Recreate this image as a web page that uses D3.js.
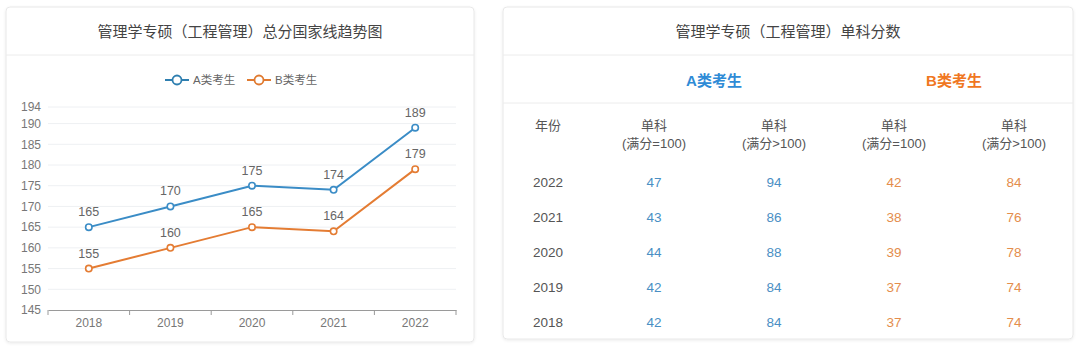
<!DOCTYPE html>
<html>
<head>
<meta charset="utf-8">
<style>
body { margin: 0; background: #fff; }
svg text { font-family: "Liberation Sans", "Noto Sans CJK SC", sans-serif; }
</style>
</head>
<body>
<svg id="chart" width="1080" height="352"></svg>
<script src="https://d3js.org/d3.v7.min.js"></script>
<script>

// data
const years = ["2018", "2019", "2020", "2021", "2022"];
const totalA = [165, 170, 175, 174, 189];
const totalB = [155, 160, 165, 164, 179];
const yTicks = [145, 150, 155, 160, 165, 170, 175, 180, 185, 190, 194];

const tableYears = ["2022", "2021", "2020", "2019", "2018"];
const aSingle100 = [47, 43, 44, 42, 42];
const aSingleOver = [94, 86, 88, 84, 84];
const bSingle100 = [42, 38, 39, 37, 37];
const bSingleOver = [84, 76, 78, 74, 74];

const leftTitle = "管理学专硕（工程管理）总分国家线趋势图";
const rightTitle = "管理学专硕（工程管理）单科分数";
const seriesNames = ["A类考生", "B类考生"];
const colHeads = ["(满分=100)", "(满分>100)", "(满分=100)", "(满分>100)"];

const blue = "#3a8cc6", orange = "#e47c33";

let svg = d3.select("#chart");

// soft shadow for the cards
let defs = svg.append("defs");
let f = defs.append("filter").attr("id", "shadow").attr("x", "-5%").attr("y", "-5%").attr("width", "110%").attr("height", "110%");
f.append("feDropShadow").attr("dx", 0).attr("dy", 1).attr("stdDeviation", 1.5).attr("flood-color", "#000").attr("flood-opacity", 0.08);

function card(x0, y0, x1, y1, title) {
    let g = svg.append("g");
    g.append("rect")
        .attr("x", x0).attr("y", y0)
        .attr("width", x1 - x0).attr("height", y1 - y0)
        .attr("rx", 4)
        .attr("fill", "#fff")
        .attr("stroke", "#e8e8e8")
        .attr("filter", "url(#shadow)");
    g.append("line")
        .attr("x1", x0).attr("x2", x1)
        .attr("y1", 55).attr("y2", 55)
        .attr("stroke", "#ececec");
    g.append("text")
        .attr("x", (x0 + x1) / 2).attr("y", 31)
        .attr("text-anchor", "middle").attr("dominant-baseline", "central")
        .attr("font-size", 15).attr("fill", "#444")
        .text(title);
    return g;
}

// ---------- left: line chart ----------
card(6, 7, 474, 342, leftTitle);

let x = d3.scaleBand().domain(years).range([48, 456]);
let y = d3.scaleLinear().domain([145, 194]).range([310, 107]);

let plot = svg.append("g");

// grid
plot.selectAll(".grid")
    .data(yTicks.slice(1))
    .join("line")
    .attr("x1", 48).attr("x2", 456)
    .attr("y1", d => y(d)).attr("y2", d => y(d))
    .attr("stroke", "#eef0f3");

// y axis (labels only)
let yAxis = plot.append("g")
    .attr("transform", "translate(48,0)")
    .call(d3.axisLeft(y).tickValues(yTicks).tickSize(0).tickPadding(7));
yAxis.select(".domain").remove();
yAxis.selectAll("text").attr("font-size", 12).attr("fill", "#777").attr("font-family", null);

// x axis
let xAxis = plot.append("g")
    .attr("transform", "translate(0,310)")
    .call(d3.axisBottom(x).tickSize(0).tickPadding(8));
xAxis.select(".domain").attr("stroke", "#9a9a9a");
xAxis.selectAll("text").attr("font-size", 12).attr("fill", "#777").attr("font-family", null);
// boundary ticks between bands
xAxis.selectAll(".bt")
    .data(years.map(d => x(d)).concat([x.range()[1]]))
    .join("line")
    .attr("x1", d => d).attr("x2", d => d)
    .attr("y1", 0).attr("y2", 5)
    .attr("stroke", "#9a9a9a");

let cx = d => x(d) + x.bandwidth() / 2;

[[totalA, blue], [totalB, orange]].forEach(([vals, col]) => {
    let pts = years.map((yr, i) => ({ yr: yr, v: vals[i] }));
    plot.append("path")
        .datum(pts)
        .attr("fill", "none")
        .attr("stroke", col)
        .attr("stroke-width", 2)
        .attr("d", d3.line().x(d => cx(d.yr)).y(d => y(d.v)));
    plot.selectAll(null)
        .data(pts)
        .join("circle")
        .attr("cx", d => cx(d.yr)).attr("cy", d => y(d.v))
        .attr("r", 3.2)
        .attr("fill", "#fff")
        .attr("stroke", col)
        .attr("stroke-width", 1.6);
    plot.selectAll(null)
        .data(pts)
        .join("text")
        .attr("x", d => cx(d.yr)).attr("y", d => y(d.v) - 15)
        .attr("text-anchor", "middle").attr("dominant-baseline", "central")
        .attr("font-size", 12.5).attr("fill", "#666")
        .text(d => d.v);
});

// legend
let legend = svg.append("g");
[[165, blue, "#2f7fb0"], [247, orange, "#e07a30"]].forEach(([lx, col, dk], i) => {
    let lg = legend.append("g").attr("transform", "translate(" + lx + ",80)");
    lg.append("line").attr("x1", 0).attr("x2", 24).attr("stroke", dk).attr("stroke-width", 2);
    lg.append("circle").attr("cx", 12).attr("r", 4.5).attr("fill", "#fff").attr("stroke", dk).attr("stroke-width", 1.8);
    lg.append("text").attr("x", 28).attr("dominant-baseline", "central")
        .attr("font-size", 11.5).attr("fill", "#666").text(seriesNames[i]);
});

// ---------- right: table ----------
let tg = card(503, 7, 1073, 339, rightTitle);

tg.append("line")
    .attr("x1", 503).attr("x2", 1073)
    .attr("y1", 103).attr("y2", 103)
    .attr("stroke", "#ececec");

let colX = d3.scaleBand().domain([0, 1, 2, 3]).range([594, 1074]);
let colC = i => colX(i) + colX.bandwidth() / 2;
let yearX = 548;

// group headers
[[0, 1, blue, "#2f8bd6"], [2, 3, orange, "#f07722"]].forEach(([a, b, c, tc], i) => {
    tg.append("text")
        .attr("x", (colC(a) + colC(b)) / 2).attr("y", 80)
        .attr("text-anchor", "middle").attr("dominant-baseline", "central")
        .attr("font-size", 15).attr("font-weight", "bold").attr("fill", tc)
        .text(seriesNames[i]);
});

// column headers
tg.append("text")
    .attr("x", yearX).attr("y", 125)
    .attr("text-anchor", "middle").attr("dominant-baseline", "central")
    .attr("font-size", 13).attr("fill", "#555").text("年份");
colHeads.forEach((h, i) => {
    tg.append("text")
        .attr("x", colC(i)).attr("y", 125)
        .attr("text-anchor", "middle").attr("dominant-baseline", "central")
        .attr("font-size", 13).attr("fill", "#555").text("单科");
    tg.append("text")
        .attr("x", colC(i)).attr("y", 143)
        .attr("text-anchor", "middle").attr("dominant-baseline", "central")
        .attr("font-size", 13).attr("fill", "#555").text(h);
});

// rows
let rowY = d3.scalePoint().domain(tableYears).range([182, 322]);
let cols = [aSingle100, aSingleOver, bSingle100, bSingleOver];
let colColors = ["#4a8fc4", "#4a8fc4", "#e48d4c", "#e48d4c"];

tableYears.forEach((yr, r) => {
    tg.append("text")
        .attr("x", yearX).attr("y", rowY(yr))
        .attr("text-anchor", "middle").attr("dominant-baseline", "central")
        .attr("font-size", 13.5).attr("fill", "#555").text(yr);
    cols.forEach((arr, c) => {
        tg.append("text")
            .attr("x", colC(c)).attr("y", rowY(yr))
            .attr("text-anchor", "middle").attr("dominant-baseline", "central")
            .attr("font-size", 13.5).attr("fill", colColors[c]).text(arr[r]);
    });
});

</script>
</body>
</html>
